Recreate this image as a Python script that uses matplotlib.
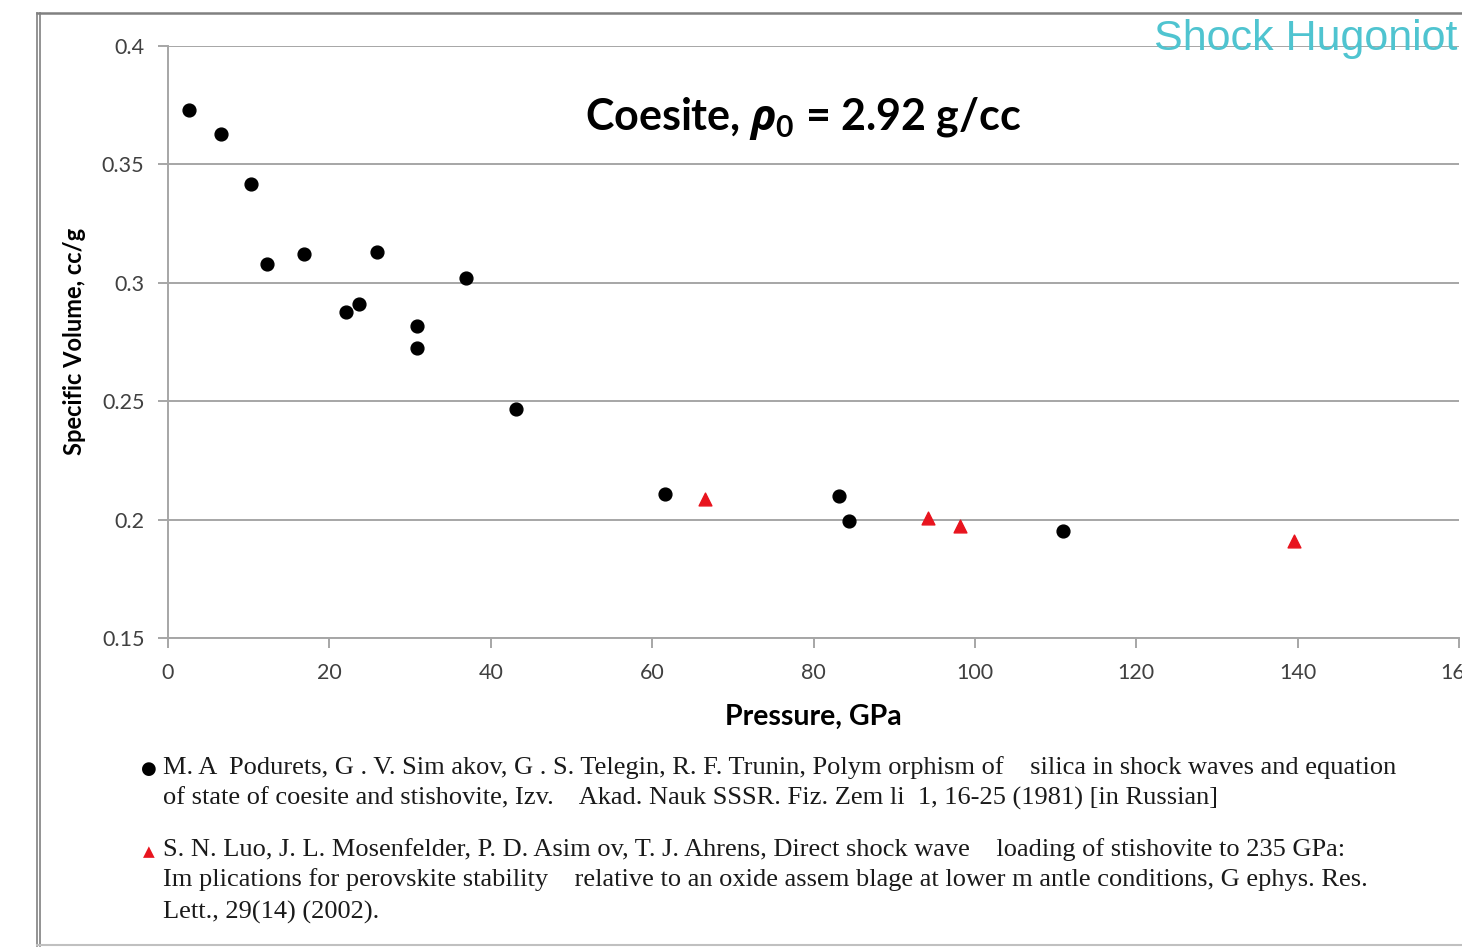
import matplotlib
matplotlib.use("Agg")
import matplotlib.pyplot as plt
from matplotlib.lines import Line2D

# Podurets et al. (1981) - pontos pretos
pressao_pod = [2.6, 6.6, 10.3, 12.3, 16.8, 22.0, 23.7, 25.9, 30.8, 30.8, 36.9, 43.1, 61.6, 83.2, 84.4, 110.9]
volume_pod = [0.373, 0.363, 0.3417, 0.308, 0.3122, 0.2877, 0.291, 0.313, 0.2816, 0.2725, 0.3019, 0.2468,
              0.2107, 0.2100, 0.1995, 0.1953]

# Luo et al. (2002) - triangulos vermelhos
pressao_luo = [66.5, 94.2, 98.1, 139.6]
volume_luo = [0.2085, 0.2008, 0.1975, 0.1910]

xticks = [0, 20, 40, 60, 80, 100, 120, 140, 160]
yticks = [0.15, 0.2, 0.25, 0.3, 0.35, 0.4]
ytick_labels = ["0.15", "0.2", "0.25", "0.3", "0.35", "0.4"]

referencias = [
    "M. A  Podurets, G . V. Sim akov, G . S. Telegin, R. F. Trunin, Polym orphism of    silica in shock waves and equation",
    "of state of coesite and stishovite, Izv.    Akad. Nauk SSSR. Fiz. Zem li  1, 16-25 (1981) [in Russian]",
    "S. N. Luo, J. L. Mosenfelder, P. D. Asim ov, T. J. Ahrens, Direct shock wave    loading of stishovite to 235 GPa:",
    "Im plications for perovskite stability    relative to an oxide assem blage at lower m antle conditions, G ephys. Res.",
    "Lett., 29(14) (2002).",
]

plt.rcParams["font.family"] = ["Lato", "DejaVu Sans"]
plt.rcParams["mathtext.fontset"] = "custom"
plt.rcParams["mathtext.rm"] = "Lato:bold"
plt.rcParams["mathtext.it"] = "Open Sans:bold:italic"

fig = plt.figure(figsize=(14.62, 9.48), dpi=100)
ax = fig.add_axes([168 / 1462, 310 / 948, 1291 / 1462, 592 / 948])

cinza = "#a6a6a6"
ax.scatter(pressao_pod, volume_pod, s=85, color="black", zorder=3)
ax.scatter(pressao_luo, volume_luo, s=85, marker="^", color="#e8141e", zorder=3)

ax.set_xlim(0, 160)
ax.set_ylim(0.15, 0.4)
ax.set_xticks(xticks)
ax.set_yticks(yticks)
ax.set_yticklabels(ytick_labels)
ax.grid(axis="y", color=cinza, linewidth=1.4)
ax.set_axisbelow(True)
for lado in ["top", "right"]:
    ax.spines[lado].set_visible(False)
for lado in ["left", "bottom"]:
    ax.spines[lado].set_color(cinza)
    ax.spines[lado].set_linewidth(1.4)
ax.tick_params(axis="x", direction="out", length=7, width=1.4, color=cinza, pad=11,
               labelsize=15.5, labelcolor="#404040")
ax.tick_params(axis="y", direction="out", length=7, width=1.4, color=cinza, pad=10,
               labelsize=15.5, labelcolor="#404040")

ax.set_xlabel("Pressure, GPa", fontsize=20.5, fontweight="bold", labelpad=15)
ax.set_ylabel("Specific Volume, cc/g", fontsize=17, fontweight="bold", va="center")
ax.yaxis.set_label_coords((75 - 168) / 1291, (638 - 341) / 592)

# titulo dentro do grafico
fig.text(803 / 1462, 1 - 118 / 948, r"Coesite, $\rho_0$ = 2.92 g/cc", fontsize=31,
         fontweight="bold", ha="center", va="center")

fig.text(1457 / 1462, 1 - 39 / 948, "Shock Hugoniot", fontsize=31, color="#4fc4d0",
         family="Liberation Sans", ha="right", va="center")

# referencias
serif = "Liberation Serif"
ys = [768, 798, 850, 880, 912]
for texto, y in zip(referencias, ys):
    fig.text(163 / 1462, 1 - y / 948, texto, fontsize=19, family=serif,
             color="#1a1a1a", ha="left", va="center")
fig.text(149 / 1462, 1 - 769 / 948, "●", fontsize=13, family="DejaVu Sans",
         ha="center", va="center", color="black")
fig.text(149 / 1462, 1 - 852 / 948, "▲", fontsize=11, family="DejaVu Sans",
         ha="center", va="center", color="#e8141e")

# moldura externa
borda = "#808080"
fig.add_artist(Line2D([37 / 1462, 37 / 1462], [1 - 13 / 948, 1 - 946 / 948], color=borda, lw=1.2))
fig.add_artist(Line2D([40 / 1462, 40 / 1462], [1 - 13 / 948, 1 - 946 / 948], color=borda, lw=1.2))
fig.add_artist(Line2D([37 / 1462, 1], [1 - 13 / 948, 1 - 13 / 948], color=borda, lw=1.8))
fig.add_artist(Line2D([37 / 1462, 1], [1 - 945 / 948, 1 - 945 / 948], color="#c0c0c0", lw=1.5))

fig.savefig("out.png", dpi=100)
